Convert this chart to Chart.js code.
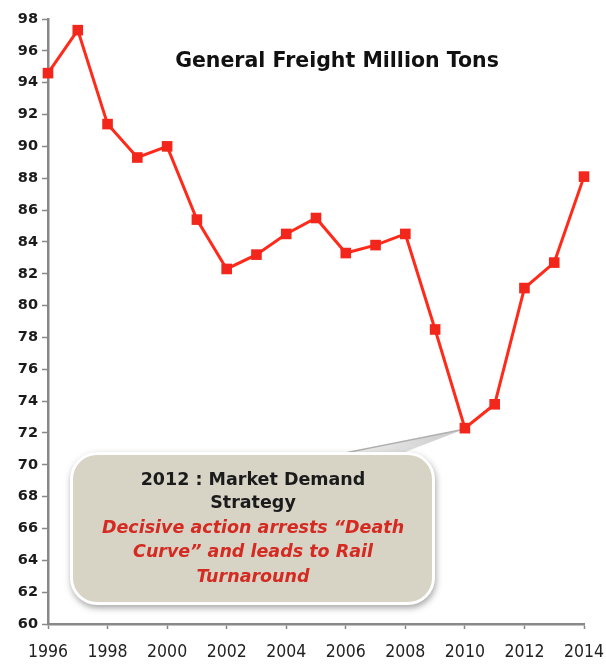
<!DOCTYPE html>
<html><head><meta charset="utf-8">
<script src="https://cdn.jsdelivr.net/npm/chart.js@4"></script>
<style>html,body{margin:0;padding:0;background:#fff}#wrap{width:606px;height:664px}</style>
</head><body><div id="wrap"><canvas id="c" width="606" height="664"></canvas></div>
<script>
const years = [1996,1997,1998,1999,2000,2001,2002,2003,2004,2005,2006,2007,2008,2009,2010,2011,2012,2013,2014];
const freight = [94.6,97.3,91.4,89.3,90.0,85.4,82.3,83.2,84.5,85.5,83.3,83.8,84.5,78.5,72.3,73.8,81.1,82.7,88.1];
const yMin = 60, yMax = 98, yStep = 2;
const xMin = 1996, xMax = 2014, xStep = 2;
const chartTitle = 'General Freight Million Tons';
const calloutHeading = ['2012 : Market Demand', 'Strategy'];
const calloutBody = ['Decisive action arrests \u201cDeath', 'Curve\u201d and leads to Rail', 'Turnaround'];
const calloutYear = 2010;

function hasFont(name){
  const c = document.createElement('canvas').getContext('2d');
  c.font = '22px monospace'; const a = c.measureText('1996 abcMW').width;
  c.font = '22px "' + name + '", monospace'; const b = c.measureText('1996 abcMW').width;
  return Math.abs(a-b) > 0.5;
}
const xFont = hasFont('Liberation Sans Narrow')
  ? {family:'"Liberation Sans Narrow"', size:22}
  : {family:'"DejaVu Sans Condensed", "DejaVu Sans"', size:17.5};

const overlay = {
  id:'overlay',
  beforeDatasetsDraw(chart){
    const ctx = chart.ctx, xs = chart.scales.x, ys = chart.scales.y;
    const tipX = xs.getPixelForValue(calloutYear);
    const tipY = ys.getPixelForValue(freight[years.indexOf(calloutYear)]);
    const bx = 73, by = 455, bw = 359, bh = 147, r = 24;
    ctx.save();
    ctx.beginPath();
    ctx.moveTo(330, by + 2); ctx.lineTo(tipX - 1, tipY + 1); ctx.lineTo(392, by + 2); ctx.closePath();
    const g = ctx.createLinearGradient(330, by, tipX, tipY);
    g.addColorStop(0, '#f6f6f6'); g.addColorStop(1, '#c8c8c8');
    ctx.fillStyle = g; ctx.fill();
    ctx.beginPath(); ctx.moveTo(330, by + 1); ctx.lineTo(tipX - 1, tipY + 1);
    ctx.strokeStyle = '#b0b0b0'; ctx.lineWidth = 1.5; ctx.stroke();
    ctx.shadowColor = 'rgba(0,0,0,0.35)'; ctx.shadowBlur = 6; ctx.shadowOffsetX = 1; ctx.shadowOffsetY = 3;
    ctx.beginPath(); ctx.roundRect(bx - 3, by - 3, bw + 6, bh + 6, r + 3);
    ctx.fillStyle = '#ffffff'; ctx.fill();
    ctx.shadowColor = 'transparent';
    ctx.beginPath(); ctx.roundRect(bx, by, bw, bh, r);
    ctx.fillStyle = '#D7D4C5'; ctx.fill();
    const cx = 253;
    ctx.textAlign = 'center'; ctx.textBaseline = 'middle';
    ctx.fillStyle = '#1b1b1b';
    ctx.font = 'bold 17.5px "DejaVu Sans"';
    ctx.fillText(calloutHeading[0], cx, 480);
    ctx.fillText(calloutHeading[1], cx, 503);
    ctx.fillStyle = '#D42A22';
    ctx.font = 'italic bold 17.5px "DejaVu Sans"';
    ctx.fillText(calloutBody[0], cx, 528);
    ctx.fillText(calloutBody[1], cx, 552);
    ctx.fillText(calloutBody[2], cx, 577);
    ctx.fillStyle = '#111';
    ctx.font = 'bold 20.5px "DejaVu Sans"';
    ctx.fillText(chartTitle, 337, 62);
    ctx.restore();
  }
};

new Chart(document.getElementById('c'), {
  type:'line',
  data:{ datasets:[{
    data: years.map((y,i)=>({x:y, y:freight[i]})),
    borderColor:'#FF2A1A', borderWidth:3, tension:0, clip:false,
    pointStyle:'rect', pointRadius:7.5, pointBackgroundColor:'#F2261A', pointBorderWidth:0
  }]},
  options:{
    responsive:false, animation:false, devicePixelRatio:1,
    layout:{padding:{top:19, right:22, left:0, bottom:0}},
    plugins:{legend:{display:false}, tooltip:{enabled:false}, title:{display:false}},
    scales:{
      x:{ type:'linear', min:xMin, max:xMax,
        ticks:{stepSize:xStep, callback:v=>String(v), font:xFont, color:'#222', padding:13, maxRotation:0},
        grid:{drawOnChartArea:false, drawTicks:true, tickLength:5, tickColor:'#888', tickWidth:1.5},
        border:{color:'#888', width:2.5},
        afterFit(s){ s.height = 40; s.paddingRight = 0; s.paddingLeft = 0; }
      },
      y:{ min:yMin, max:yMax,
        ticks:{stepSize:yStep, font:{family:'"DejaVu Sans"', size:14.5, weight:'bold'}, color:'#1b1b1b', padding:4},
        grid:{drawOnChartArea:false, drawTicks:true, tickLength:6, tickColor:'#888', tickWidth:1.5},
        border:{color:'#888', width:2.5},
        afterFit(s){ s.width = 48; s.paddingTop = 0; s.paddingBottom = 0; }
      }
    }
  },
  plugins:[overlay]
});
</script></body></html>
